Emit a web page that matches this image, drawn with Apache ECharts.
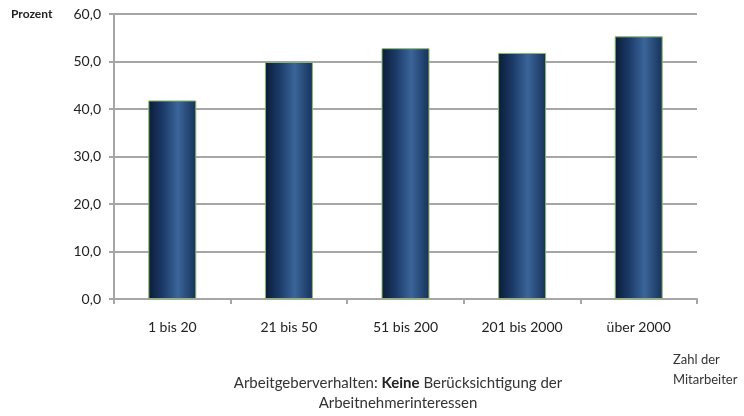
<!DOCTYPE html>
<html>
<head>
<meta charset="utf-8">
<script src="https://cdn.jsdelivr.net/npm/echarts@6/dist/echarts.min.js"></script>
<style>
  html, body { margin: 0; padding: 0; background: #fff; }
  #chart { width: 744px; height: 416px; }
</style>
</head>
<body>
<div id="chart"></div>
<script>
// Anteil in Prozent je Betriebsgröße
const categories = ['1 bis 20', '21 bis 50', '51 bis 200', '201 bis 2000', 'über 2000']
const values = [41.8, 49.9, 52.8, 51.8, 55.3]

const font = 'Lato, "Open Sans", sans-serif'

const chart = echarts.init(document.getElementById('chart'))

// Zylinder-Optik: dunkle Ränder, helle Mitte
const barColor = new echarts.graphic.LinearGradient(0, 0, 1, 0, [
  { offset: 0, color: '#0b1c36' },
  { offset: 0.3, color: '#1b3a68' },
  { offset: 0.62, color: '#3b6599' },
  { offset: 1, color: '#15315a' }
])

const option = {
  animation: false,
  backgroundColor: '#fff',
  title: {
    text: '{n|Arbeitgeberverhalten: }{b|Keine}{n| Berücksichtigung der}\n{n|Arbeitnehmerinteressen}',
    left: 393,
    top: 368,
    textAlign: 'center',
    textStyle: {
      fontWeight: 'normal',
      rich: {
        n: { fontFamily: font, fontSize: 15, fontWeight: 'normal', color: '#333', lineHeight: 20 },
        b: { fontFamily: font, fontSize: 15, fontWeight: 'bold', color: '#222', lineHeight: 20 }
      }
    }
  },
  graphic: [
    {
      type: 'text',
      left: 11,
      top: 8,
      style: { text: 'Prozent', fontFamily: font, fontSize: 12, fontWeight: 'bold', fill: '#222' }
    },
    {
      type: 'text',
      left: 673,
      top: 350,
      style: { text: 'Zahl der\nMitarbeiter', fontFamily: font, fontSize: 13, fill: '#333', lineHeight: 20 }
    }
  ],
  grid: { left: 114, right: 47, top: 14, bottom: 117 },
  xAxis: {
    type: 'category',
    data: categories,
    axisLine: { lineStyle: { color: '#a6a6a6', width: 2 } },
    axisTick: { show: true, length: 5, lineStyle: { color: '#a6a6a6', width: 2 } },
    axisLabel: { color: '#222', fontFamily: font, fontSize: 14, margin: 21 }
  },
  yAxis: {
    type: 'value',
    min: 0,
    max: 60,
    interval: 10,
    axisLine: { show: true, lineStyle: { color: '#a6a6a6', width: 2 } },
    axisTick: { show: true, length: 5, lineStyle: { color: '#a6a6a6', width: 2 } },
    splitLine: { lineStyle: { color: '#a6a6a6', width: 2 } },
    axisLabel: {
      color: '#222',
      fontFamily: font,
      fontSize: 14,
      margin: 13,
      formatter: v => v.toFixed(1).replace('.', ',')
    }
  },
  series: [
    {
      type: 'bar',
      data: values,
      barWidth: 48,
      itemStyle: { color: barColor, borderColor: '#8db86a', borderWidth: 1 }
    }
  ]
}

chart.setOption(option)
</script>
</body>
</html>
